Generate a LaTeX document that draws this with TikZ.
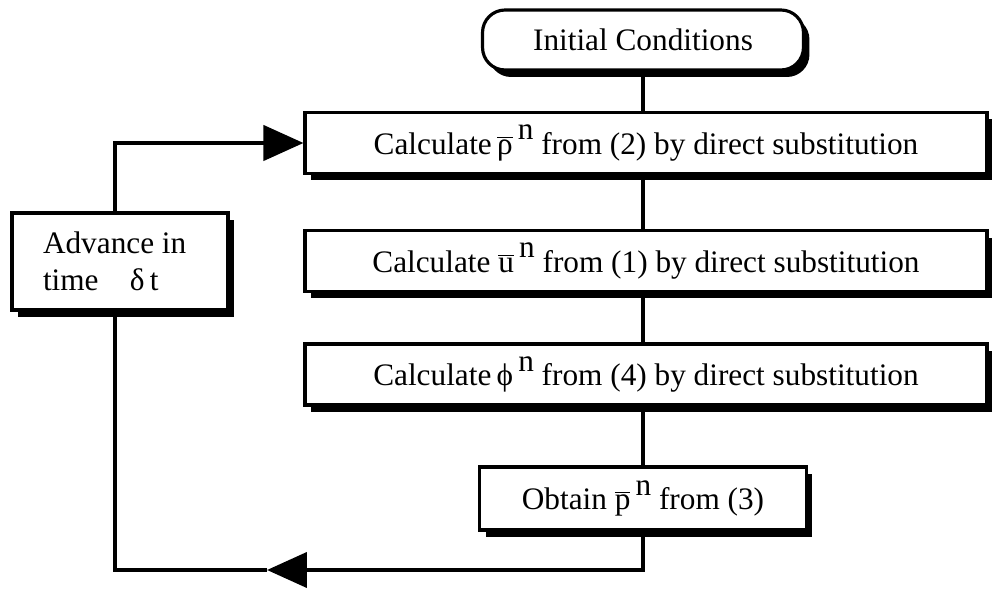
\documentclass[tikz,border=0pt]{standalone}
\usepackage{fontspec}
\setmainfont{Liberation Serif}
\usetikzlibrary{arrows.meta,shadows,backgrounds}

\newcommand{\barred}[1]{$\overline{\mbox{#1}}$}
\newcommand{\supn}{\raisebox{1.0ex}{n}}

\begin{document}
\begin{tikzpicture}[
  x=0.02cm,y=-0.02cm,
  font=\fontsize{17.8}{21}\selectfont,
  box/.style={draw,line width=1.8pt,fill=white,inner sep=0pt,
    drop shadow={shadow xshift=0.12cm,shadow yshift=-0.14cm,fill=black,opacity=1}},
  start/.style={box,rounded corners=0.45cm,minimum width=6.42cm,minimum height=1.2cm},
  wide/.style={box,minimum width=13.64cm,minimum height=1.22cm},
  flow/.style={line width=2.4pt},
  arrow/.style={flow,-{Triangle[length=0.8cm,width=0.7cm]}}
]
\useasboundingbox (0,0) rectangle (992,594);

\node[start] (init) at (643,40) {Initial Conditions};
\node[wide] (rho) at (646,143) {Calculate\,\barred{ρ}\,\supn\ from (2) by direct substitution};
\node[wide] (u) at (646,261) {Calculate \barred{u}\,\supn\ from (1) by direct substitution};
\node[wide] (phi) at (646,374.5) {Calculate\,ϕ\,\supn\ from (4) by direct substitution};
\node[box,minimum width=6.54cm,minimum height=1.26cm] (p) at (643,498.5)
  {Obtain \barred{p}\,\supn\ from (3)};
\node[box,minimum width=4.32cm,minimum height=1.94cm,text width=3.08cm,
  inner xsep=0.62cm,align=flush left] (adv) at (120,261.5) {Advance in\\time\quad δ\,t};

\coordinate (back) at (267,570);

\begin{pgfonlayer}{background}
\draw[flow] (init.south) -- (p.north);
\end{pgfonlayer}
\draw[arrow] (p.south) |- (back);
\draw[flow] (back) -| ([xshift=-0.1cm]adv.south);
\draw[arrow] ([xshift=-0.1cm]adv.north) |- (rho.west);
\end{tikzpicture}
\end{document}
